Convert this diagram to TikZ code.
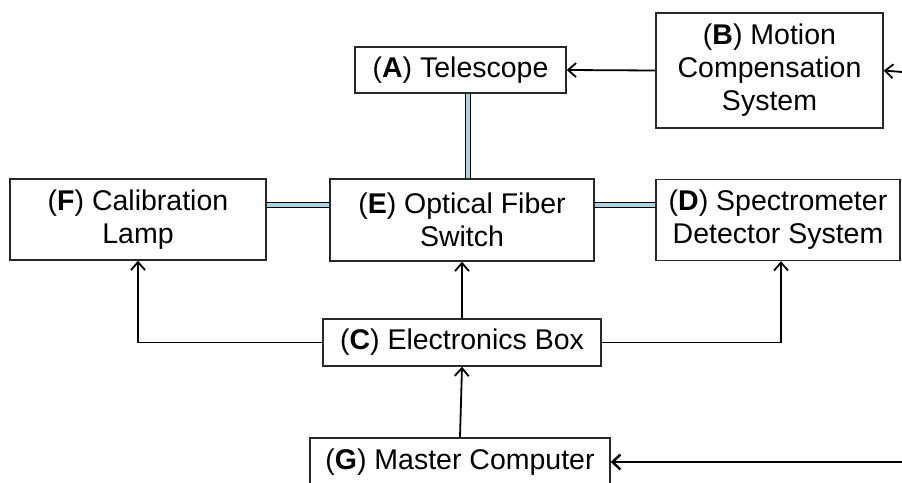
\documentclass[tikz,border=0pt]{standalone}
\usepackage{fontspec}
\setmainfont{Liberation Sans}
\usetikzlibrary{arrows.meta}
\definecolor{fiberblue}{RGB}{172,212,224}
\definecolor{boxline}{RGB}{40,40,40}
\begin{document}
\begin{tikzpicture}[x=1pt,y=-1pt,
  box/.style={draw=boxline, line width=1.4pt, inner sep=0pt, align=center,
    font=\fontsize{28.5}{33}\selectfont},
  arr/.style={line width=1.8pt, -{Straight Barb[length=8pt,width=14pt,line width=1.8pt]}},
  plain/.style={line width=1.8pt},
  fiber/.style={draw=black, line width=1.6pt, double=fiberblue, double distance=3.4pt}]
\useasboundingbox (0,0) rectangle (902,482);
\node[box, minimum width=211pt, minimum height=46pt] (A) at (460.5,70) {(\textbf{A}) Telescope};
\node[box, minimum width=227pt, minimum height=115pt] (B) at (769.5,70.5) {(\textbf{B}) Motion\\Compensation\\System};
\node[box, minimum width=264pt, minimum height=82pt] (E) at (462,220) {(\textbf{E}) Optical Fiber\\Switch};
\node[box, minimum width=256pt, minimum height=81pt] (F) at (138,219.5) {(\textbf{F}) Calibration\\Lamp};
\node[box, minimum width=244pt, minimum height=81pt] (D) at (778,220) {(\textbf{D}) Spectrometer\\Detector System};
\node[box, minimum width=278pt, minimum height=47pt] (C) at (462,342.5) {(\textbf{C}) Electronics Box};
\node[box, minimum width=300pt, minimum height=48pt] (G) at (460,462) {(\textbf{G}) Master Computer};
\coordinate (fx) at (468,0);
\coordinate (fy) at (0,205);
\coordinate (bin) at (902,72);
\coordinate (gin) at (902,462);
\coordinate (gmid) at (731,462);
% fibers
\draw[fiber] (A.south -| fx) -- (E.north -| fx);
\draw[fiber] (F.east |- fy) -- (E.west |- fy);
\draw[fiber] (E.east |- fy) -- (D.west |- fy);
% arrows
\draw[arr] (B.west) -- (A.east);
\draw[arr] (bin) -- (B.east);
\draw[arr] (C.north) -- (E.south);
\draw[arr] (C.west) -| (F.south);
\draw[arr] (C.east) -| ([xshift=3pt]D.south);
\draw[arr] (G.north) -- (C.south);
\draw[plain] (gin) -- (gmid);
\draw[line width=2.8pt, -{Straight Barb[length=8pt,width=15pt,line width=2.4pt]}] (gmid) -- (G.east);
\end{tikzpicture}
\end{document}
